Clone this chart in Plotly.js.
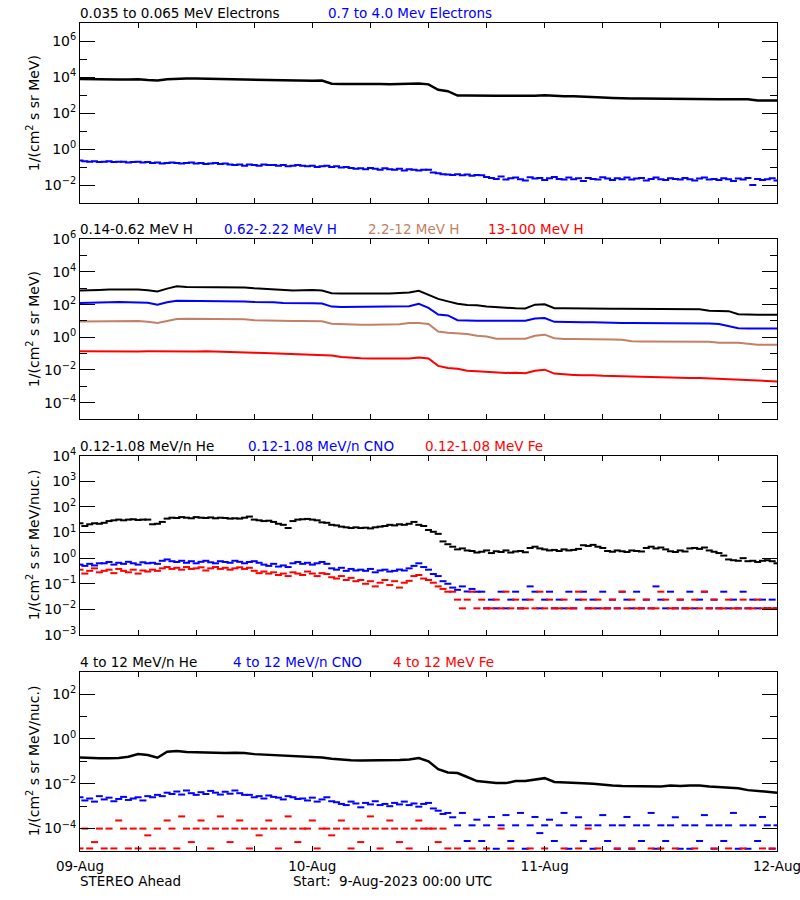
<!DOCTYPE html>
<html><head><meta charset="utf-8">
<script src="https://cdn.plot.ly/plotly-3.0.1.min.js"></script>
<style>html,body{margin:0;padding:0;background:#fff;} #chart{width:800px;height:900px;}</style>
</head><body><div id="chart"></div>
<script>
// ---------- tick labels / categories ----------
const dayTicks = ['2023-08-09','2023-08-10','2023-08-11','2023-08-12'];
const dayLabels = ['09-Aug','10-Aug','11-Aug','12-Aug'];

// ---------- Panel 1: electrons (hourly line, half-hourly points) ----------
const eLow = [7.9e3,7.6e3,7.6e3,7.4e3,7.4e3,7.4e3,7.6e3,6.9e3,6.6e3,7.6e3,
  8.3e3,8.5e3,8.5e3,8.3e3,7.9e3,7.8e3,7.6e3,7.4e3,7.4e3,7.1e3,
  6.8e3,6.6e3,6.3e3,6.0e3,6.3e3,6.5e3,4.3e3,4.2e3,4.3e3,4.3e3,
  4.3e3,4.2e3,4.1e3,4.2e3,4.2e3,4.5e3,4.0e3,2.0e3,1.66e3,955,
  955,977,977,933,933,912,933,933,1000,891,
  871,871,851,832,741,708,661,661,661,646,
  646,646,631,617,617,603,603,603,603,589,
  501,501,501];
const eHigh = [0.23,0.21,0.20,0.21,0.19,0.20,0.21,0.19,0.20,0.20,0.18,0.19,0.20,0.18,0.19,
  0.17,0.18,0.16,0.17,0.18,0.17,0.16,0.17,0.18,0.16,0.17,0.15,0.16,0.17,0.15,0.16,
  0.14,0.13,0.14,0.12,0.14,0.13,0.12,0.14,0.13,0.13,0.12,0.13,0.11,0.12,0.13,0.12,
  0.11,0.12,0.10,0.11,0.12,0.10,0.11,0.095,0.10,
  0.09,0.08,0.085,0.075,0.09,0.08,0.07,0.085,0.075,0.07,0.08,0.065,0.075,0.07,0.065,0.07,0.072,
  0.05,0.045,0.04,0.038,0.036,0.04,0.035,0.038,0.033,0.036,0.035,
  0.028,0.025,0.022,0.03,0.02,0.024,0.026,0.021,0.018,0.027,
  0.023,0.025,0.019,0.024,0.028,0.022,0.02,0.026,0.021,0.024,
  0.017,0.025,0.022,0.02,0.027,0.023,0.019,0.024,0.021,0.026,
  0.02,0.023,0.025,0.018,0.022,0.026,0.021,0.019,0.024,0.022,
  0.02,0.025,0.021,0.018,0.023,0.026,0.02,0.022,0.019,0.024,
  0.021,0.017,0.023,0.02,0.025,0.01,0.022,0.019,0.021,0.024,
  0.018];

// ---------- Panel 2: protons (hourly) ----------
const hLow = [741,741,794,832,832,832,851,759,646,955,
  1318,1202,1202,1202,1202,1175,1175,1122,1000,912,
  851,794,724,759,794,724,501,479,468,468,
  468,479,479,501,562,708,417,224,158,112,
  95,91,76,68,66,60,58,100,105,60,
  60,58,56,56,56,56,56,56,56,56,
  56,56,56,56,53,43,43,40,26,24,
  24,24,24];
const hMid = [126,126,132,138,145,145,145,132,100,141,
  174,174,174,174,174,174,170,158,145,145,
  141,126,120,120,120,117,76,72,72,72,
  72,72,74,74,79,112,63,25,22,11.2,
  10.5,10.5,10.5,10.5,10.5,10.5,10.5,14.1,15.1,8.9,
  8.5,8.3,8.3,8.3,7.9,7.9,7.6,7.6,7.6,7.4,
  7.4,7.4,7.2,7.1,7.1,6.9,6.6,4.7,3.6,3.5,
  3.5,3.5,3.5];
const hHigh = [9.3,9.3,9.5,10,10,10,10,8.9,7.6,10,
  13.2,13.8,13.8,13.5,13.2,13.2,13.2,12.6,11.2,10.7,
  10.7,10.5,10,10,10,9.5,6.8,6.3,6.0,5.9,
  5.9,5.9,5.9,6.3,7.4,7.6,6.6,2.24,1.9,1.78,
  1.58,1.26,1.12,0.83,0.81,0.81,0.81,1.26,1.45,0.89,
  0.79,0.79,0.79,0.78,0.76,0.74,0.70,0.58,0.56,0.56,
  0.56,0.56,0.55,0.55,0.54,0.53,0.47,0.47,0.46,0.40,
  0.35,0.35,0.35];
const hTop = [0.141,0.138,0.138,0.135,0.138,0.138,0.135,0.138,0.135,0.138,
  0.138,0.138,0.135,0.138,0.135,0.132,0.132,0.126,0.115,0.11,
  0.105,0.1,0.089,0.087,0.087,0.085,0.076,0.063,0.055,0.052,
  0.05,0.05,0.048,0.049,0.05,0.058,0.05,0.0178,0.0132,0.012,
  0.0089,0.0083,0.0076,0.0071,0.0066,0.0068,0.0063,0.0089,0.0105,0.006,
  0.0052,0.005,0.0047,0.0048,0.0044,0.0045,0.0042,0.004,0.0038,0.004,
  0.0035,0.0034,0.0033,0.0032,0.0032,0.003,0.0028,0.0028,0.0026,0.0025,
  0.0024,0.0022,0.002];

// ---------- Panel 3: 0.12-1.08 MeV/n ions (half-hourly) ----------
const heLow = [23,18,21,23,22,24,
  28,30,32,30,32,33,31,32,32,
  21,22,26,
  35,38,37,40,38,36,40,38,37,39,36,38,37,35,
  36,35,38,42,
  32,30,28,29,26,
  22,20,15,
  28,32,33,34,32,30,
  25,24,20,19,
  17,16,15,16,15,15.5,14.5,16,
  17,18,20,19,21,20,22,
  26,20,18,12.6,
  10.7,8.9,4.5,3.5,
  2.8,2.2,2.4,2.0,
  1.9,1.66,1.78,2.0,1.58,1.86,1.74,2.0,1.66,1.82,1.9,1.7,
  2.5,2.8,2.4,2.2,
  2.0,2.1,1.9,2.2,2.0,2.1,2.3,
  3.2,3.0,3.3,2.8,2.5,
  1.9,1.78,2.0,1.86,1.74,2.0,1.9,1.82,
  2.5,2.8,2.4,2.6,2.2,
  1.86,1.74,2.0,1.82,2.4,2.5,
  2.3,2.6,2.0,1.78,1.58,
  1.26,0.89,0.83,0.79,1.0,0.76,0.79,0.71,0.79,0.83,0.76,0.63];
const cnoLow = [0.56,0.5,0.6,0.52,0.63,
  0.63,0.71,0.56,0.66,0.6,0.72,0.63,0.56,0.69,0.63,0.66,0.6,
  0.79,0.89,0.76,
  0.71,0.79,0.66,0.76,0.63,0.72,0.79,0.69,0.63,0.76,0.71,0.66,0.79,0.72,0.63,0.71,0.76,0.66,
  0.56,0.5,0.6,0.47,0.52,0.45,
  0.63,0.71,0.6,0.66,0.56,0.63,0.71,0.6,
  0.4,0.355,0.42,0.32,0.38,0.33,
  0.355,0.32,0.38,0.28,0.33,0.355,0.3,0.32,0.36,0.33,0.4,
  0.5,0.63,0.45,0.355,
  0.24,0.2,0.126,0.1,
  0.071,0.058,0.079,0.05,0.063,0.049,
  0.049,0.011,0.024,0.011,0.049,0.011,0.024,0.049,0.011,0.024,
  0.079,0.049,0.011,0.024,0.049,0.011,0.024,0.011,0.049,0.011,
  0.024,0.049,0.011,0.024,0.011,0.049,0.011,0.024,0.011,0.049,
  0.024,0.011,0.049,0.011,0.024,0.011,0.079,0.024,0.011,0.049,
  0.011,0.024,0.011,0.049,0.011,0.024,0.049,0.011,0.024,0.011,
  0.049,0.011,0.024,0.011,0.049,0.011,0.024,0.011,0.024,0.011,
  0.024,0.011];
const feLow = [0.355,0.25,0.32,0.4,0.28,
  0.32,0.355,0.26,0.38,0.32,0.28,0.355,0.25,0.33,0.3,0.355,0.32,
  0.4,0.45,0.38,
  0.42,0.355,0.45,0.38,0.4,0.44,0.33,0.4,0.45,0.38,0.42,0.355,0.4,0.44,0.38,0.42,
  0.32,0.26,0.3,0.25,0.28,0.22,0.25,0.2,
  0.28,0.25,0.22,0.3,0.25,0.2,0.26,0.24,
  0.18,0.16,0.2,0.14,0.17,0.126,
  0.14,0.1,0.126,0.079,0.11,0.14,0.089,0.126,0.071,0.11,0.13,
  0.2,0.22,0.16,0.14,
  0.11,0.079,0.063,0.049,
  0.049,0.024,0.011,0.024,0.049,0.011,0.024,0.011,0.011,0.024,
  0.011,0.049,0.011,0.024,0.011,0.011,0.024,0.011,0.049,0.011,
  0.024,0.011,0.011,0.024,0.011,0.011,0.049,0.024,0.011,0.011,
  0.024,0.011,0.011,0.024,0.011,0.049,0.011,0.024,0.011,0.011,
  0.024,0.011,0.011,0.049,0.024,0.011,0.011,0.024,0.011,0.011,
  0.024,0.011,0.049,0.011,0.024,0.011,0.011,0.024,0.011,0.011,
  0.024,0.011,0.011,0.024,0.011,0.011,0.011,0.011];

// ---------- Panel 4: 4-12 MeV/n ions ----------
const heHigh = [0.15,0.141,0.138,0.138,0.141,0.16,0.21,0.19,0.145,0.27,
  0.29,0.26,0.25,0.25,0.24,0.234,0.24,0.234,0.21,0.2,
  0.19,0.174,0.17,0.166,0.162,0.15,0.132,0.12,0.112,0.11,
  0.11,0.11,0.11,0.115,0.12,0.141,0.1,0.045,0.032,0.03,
  0.02,0.0132,0.012,0.0107,0.0107,0.0132,0.0132,0.015,0.0178,0.012,
  0.0112,0.0107,0.0105,0.01,0.0089,0.0083,0.0079,0.0079,0.0076,0.0079,
  0.0076,0.0083,0.0079,0.0083,0.0083,0.0076,0.0071,0.0066,0.0063,0.0052,
  0.0048,0.0045,0.004];
const cnoHigh = [2.5e-3,1.8e-3,2.2e-3,1.6e-3,2.8e-3,2.0e-3,2.4e-3,1.66e-3,2.1e-3,2.6e-3,1.9e-3,2.2e-3,2.5e-3,1.8e-3,2.8e-3,
  2.5e-3,3.2e-3,2.8e-3,
  4.0e-3,3.5e-3,4.5e-3,3.3e-3,5.0e-3,3.8e-3,3.2e-3,4.2e-3,3.5e-3,4.8e-3,4.0e-3,3.3e-3,4.4e-3,3.6e-3,5.0e-3,3.8e-3,3.2e-3,
  3.2e-3,2.5e-3,2.8e-3,2.2e-3,3.0e-3,2.6e-3,2.4e-3,2.0e-3,2.8e-3,2.5e-3,2.1e-3,
  2.2e-3,1.8e-3,2.4e-3,1.6e-3,2.0e-3,2.5e-3,1.66e-3,
  1.5e-3,1.26e-3,1.12e-3,1.6e-3,1.32e-3,8.9e-4,1.4e-3,1.2e-3,1.66e-3,1.12e-3,1.26e-3,1.0e-3,1.4e-3,1.2e-3,1.6e-3,1.12e-3,1.32e-3,9.5e-4,1.26e-3,1.4e-3,
  7.9e-4,6.3e-4,4.5e-4,5.0e-4,
  3.2e-4,1.4e-4,5e-4,2.8e-5,1.4e-4,2.5e-4,2.8e-5,1.4e-4,3.3e-4,1.26e-5,
  1.4e-4,4e-4,2.8e-5,1.4e-4,5e-4,1.26e-5,1.4e-4,3.3e-4,6.3e-5,1.4e-4,
  2.5e-4,2.8e-5,1.4e-4,5e-4,1.26e-5,1.4e-4,3.2e-4,2.8e-5,1.4e-4,1.26e-5,
  1.4e-4,4e-4,2.8e-5,1.4e-4,1.26e-5,1.4e-4,3.3e-4,1.26e-5,1.4e-4,2.8e-5,
  1.4e-4,5e-4,1.26e-5,1.4e-4,2.8e-5,1.4e-4,3.2e-4,1.26e-5,1.4e-4,1.26e-5,
  1.4e-4,2.8e-5,4e-4,1.4e-4,1.26e-5,1.4e-4,2.8e-5,1.4e-4,5e-4,1.26e-5,
  1.4e-4,1.26e-5,1.4e-4,2.8e-5,3.3e-4,1.4e-4,1.26e-5,1.4e-4];
const feHigh = [1.3e-5,1e-4,1.3e-5,2.5e-5,1e-4,1.3e-5,1e-4,1.3e-5,2.3e-4,1e-4,
  1.3e-5,1e-4,1.3e-5,1e-4,5e-5,1.3e-5,1e-4,1.3e-5,2.3e-4,1e-4,
  1.3e-5,3.5e-4,1e-4,2.5e-5,1e-4,2.3e-4,1e-4,1.3e-5,1e-4,3.5e-4,
  1e-4,2.5e-5,1e-4,2.3e-4,1e-4,1.3e-5,1e-4,5e-5,1e-4,2.3e-4,
  1e-4,1.3e-5,1e-4,3.5e-4,1e-4,2.5e-5,1e-4,1e-4,2.3e-4,1.3e-5,
  1e-4,1e-4,5e-5,1e-4,2.3e-4,1e-4,1.3e-5,1e-4,2.5e-5,1e-4,
  3.5e-4,1e-4,1.3e-5,1e-4,2.3e-4,1e-4,2.5e-5,1e-4,1.3e-5,1e-4,
  2.3e-4,1e-4,1e-4,
  1e-4,2.5e-5,1e-4,1.3e-5,null,1.3e-5,null,null,1.3e-5,null,
  null,1.3e-5,null,null,1e-4,null,1.3e-5,null,null,null,
  1.3e-5,null,null,1.3e-5,null,null,null,1.3e-5,null,null,
  1.3e-5,null,1e-4,null,1.3e-5,null,null,null,1.3e-5,null,
  null,1.3e-5,null,null,null,1.3e-5,null,1.3e-5,null,null,
  1.3e-5,null,null,null,1.3e-5,null,null,null,1.3e-5,null,
  null,1.3e-5,null,null,1.3e-5,null,null,null,1.3e-5,null,1.3e-5,null];

// ---------- helpers ----------
const FONT = 'DejaVu Sans, Verdana, sans-serif';
const BLUE = '#0000ff', RED = '#ff0000', BROWN = 'rgb(196,128,100)', BLACK = '#000000';
function timeGrid(n, stepMin) {
  const t0 = Date.UTC(2023, 7, 9), out = [];
  for (let i = 0; i < n; i++) out.push(new Date(t0 + i * stepMin * 60000).toISOString().slice(0, 19).replace('T', ' '));
  return out;
}
function lineTrace(y, color, xa, ya, w) {
  return {x: timeGrid(y.length, 60), y, type: 'scatter', mode: 'lines', line: {color, width: w || 2},
          xaxis: xa, yaxis: ya, hoverinfo: 'skip'};
}
function dotTrace(y, color, xa, ya) {
  return {x: timeGrid(y.length, 30), y, type: 'scatter', mode: 'markers',
          marker: {color, size: 5, symbol: 'line-ew', line: {width: 2, color}},
          xaxis: xa, yaxis: ya, hoverinfo: 'skip'};
}
function sup(e) { return '10<sup>' + (e < 0 ? '\u2212' + (-e) : e) + '</sup>'; }
function yax(domain, lo, hi, major, minor) {
  const a = {type: 'log', domain, range: [lo, hi], tickmode: 'array',
    tickvals: major.map(e => Math.pow(10, e)), ticktext: major.map(sup),
    ticks: 'inside', ticklen: 15, tickwidth: 1, tickcolor: BLACK,
    showline: true, linecolor: BLACK, linewidth: 1, mirror: 'ticks',
    showgrid: false, zeroline: false, fixedrange: true,
    tickfont: {family: FONT, size: 14, color: BLACK}};
  if (minor.length) a.minor = {tickmode: 'array', tickvals: minor.map(e => Math.pow(10, e)),
    ticks: 'inside', ticklen: 7, tickwidth: 1, tickcolor: BLACK, showgrid: false};
  return a;
}
function xax(anchor, labels) {
  return {type: 'date', range: ['2023-08-09 00:00', '2023-08-12 00:00'], domain: [0, 1], anchor,
    tickmode: 'array', tickvals: dayTicks, ticktext: dayLabels,
    showticklabels: labels, ticklabeloverflow: 'allow',
    ticks: 'inside', ticklen: 5, tickwidth: 1, tickcolor: BLACK,
    minor: {tickmode: 'linear', tick0: '2023-08-09', dtick: 6 * 3600000, ticks: 'inside', ticklen: 5,
            tickwidth: 1, tickcolor: BLACK, showgrid: false},
    showline: true, linecolor: BLACK, linewidth: 1, mirror: 'ticks', showgrid: false, zeroline: false,
    fixedrange: true, tickfont: {family: FONT, size: 13.5, color: BLACK}, ticklabelstandoff: 3};
}
const W = 697, L = 80;
function px2x(p) { return (p - L) / W; }
function px2y(p) { return 1 - p / 900; }
function label(text, xp, yp, color, opts) {
  return Object.assign({xref: 'paper', yref: 'paper', x: px2x(xp), y: px2y(yp), text, showarrow: false,
    xanchor: 'left', yanchor: 'middle', font: {family: FONT, size: 13.5, color}}, opts || {});
}
const dom = [[0.77444, 0.97411], [0.53444, 0.73411], [0.29444, 0.49367], [0.05444, 0.25367]];
function ytitle(text, d) {
  return {xref: 'paper', yref: 'paper', x: px2x(33), y: (d[0] + d[1]) / 2, text, showarrow: false,
    textangle: -90, xanchor: 'center', yanchor: 'middle', font: {family: FONT, size: 14, color: BLACK}};
}

const traces = [
  lineTrace(eLow, BLACK, 'x', 'y', 2.5),
  dotTrace(eHigh, BLUE, 'x', 'y'),
  lineTrace(hLow, BLACK, 'x2', 'y2'),
  lineTrace(hMid, BLUE, 'x2', 'y2'),
  lineTrace(hHigh, BROWN, 'x2', 'y2'),
  lineTrace(hTop, RED, 'x2', 'y2'),
  dotTrace(heLow, BLACK, 'x3', 'y3'),
  dotTrace(cnoLow, BLUE, 'x3', 'y3'),
  dotTrace(feLow, RED, 'x3', 'y3'),
  lineTrace(heHigh, BLACK, 'x4', 'y4', 2.5),
  dotTrace(cnoHigh, BLUE, 'x4', 'y4'),
  dotTrace(feHigh, RED, 'x4', 'y4')
];

const annotations = [
  label('0.035 to 0.065 MeV Electrons', 78, 13, BLACK),
  label('0.7 to 4.0 Mev Electrons', 326, 13, BLUE),
  label('0.14-0.62 MeV H', 78, 229, BLACK),
  label('0.62-2.22 MeV H', 222, 229, BLUE),
  label('2.2-12 MeV H', 366, 229, BROWN),
  label('13-100 MeV H', 486, 229, RED),
  label('0.12-1.08 MeV/n He', 78, 445.5, BLACK),
  label('0.12-1.08 MeV/n CNO', 246, 445.5, BLUE),
  label('0.12-1.08 MeV Fe', 423, 445.5, RED),
  label('4 to 12 MeV/n He', 78, 661.5, BLACK),
  label('4 to 12 MeV/n CNO', 231, 661.5, BLUE),
  label('4 to 12 MeV Fe', 391, 661.5, RED),
  label('STEREO Ahead', 78, 880.5, BLACK),
  label('Start:\u00a0\u00a09-Aug-2023 00:00 UTC', 291, 880.5, BLACK),
  ytitle('1/(cm<sup>2</sup> s sr MeV)', dom[0]),
  ytitle('1/(cm<sup>2</sup> s sr MeV)', dom[1]),
  ytitle('1/(cm<sup>2</sup> s sr MeV/nuc.)', dom[2]),
  ytitle('1/(cm<sup>2</sup> s sr MeV/nuc.)', dom[3])
];

const layout = {
  width: 800, height: 900, margin: {l: L, r: 800 - L - W, t: 0, b: 0},
  paper_bgcolor: '#fff', plot_bgcolor: '#fff', showlegend: false, hovermode: false,
  font: {family: FONT, size: 13, color: BLACK},
  xaxis: xax('y', false), xaxis2: xax('y2', false), xaxis3: xax('y3', false), xaxis4: xax('y4', true),
  yaxis: yax(dom[0], -3, 7, [-2, 0, 2, 4, 6], [-1, 1, 3, 5]),
  yaxis2: yax(dom[1], -5, 6, [-4, -2, 0, 2, 4, 6], [-3, -1, 1, 3, 5]),
  yaxis3: yax(dom[2], -3, 4, [-3, -2, -1, 0, 1, 2, 3, 4], []),
  yaxis4: yax(dom[3], -5, 3, [-4, -2, 0, 2], [-3, -1, 1]),
  annotations
};
Plotly.newPlot('chart', traces, layout, {staticPlot: true, displayModeBar: false});
</script></body></html>
